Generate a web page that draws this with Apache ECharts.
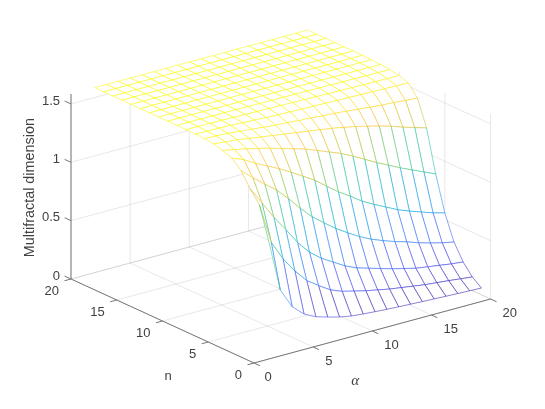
<!DOCTYPE html>
<html><head><meta charset="utf-8">
<style>html,body{margin:0;padding:0;background:#fff}#c{width:545px;height:409px}</style>
<script src="https://cdn.jsdelivr.net/npm/echarts@6/dist/echarts.min.js"></script>
</head><body><div id="c"></div>
<script>
const alphaValues=[2,3,4,5,6,7,8,9,10,11,12,13,14,15,16,17,18,19,20];
const nValues=[1,2,3,4,5,6,7,8,9,10,11,12,13,14,15,16,17,18,19,20];
const d1=[.96,.507,.337,.247,.196,.166,.139,.12,.11,.102,.095,.089,.084,.079,.074,.07,.066,.062,.058];
const d2=[1.23,.88,.71,.58,.47,.40,.335,.295,.27,.245,.225,.205,.19,.175,.16,.15,.14,.128,.117];
const d3=[1.33,1.18,1.03,.9,.76,.65,.57,.51,.45,.405,.375,.345,.315,.29,.265,.25,.235,.22,.209];
const d4=[1.45,1.36,1.28,1.2,1.1,.99,.89,.81,.735,.67,.61,.56,.52,.485,.455,.42,.39,.365,.344];
const d5=[1.52,1.48,1.42,1.37,1.32,1.263,1.2,1.14,1.06,.985,.92,.85,.795,.745,.695,.655,.62,.585,.557];
const d6=[1.55,1.53,1.51,1.485,1.46,1.43,1.40,1.37,1.33,1.29,1.25,1.2,1.145,1.09,1.04,.99,.945,.9,.855];
const d7=[1.57,1.56,1.55,1.535,1.52,1.505,1.49,1.475,1.46,1.445,1.43,1.41,1.39,1.365,1.34,1.31,1.275,1.245,1.213];
const d8=[1.58,1.575,1.57,1.56,1.55,1.54,1.53,1.525,1.515,1.51,1.50,1.495,1.485,1.475,1.465,1.455,1.45,1.44,1.434];
const d9=[1.583,1.58,1.578,1.575,1.57,1.565,1.56,1.555,1.553,1.55,1.547,1.545,1.542,1.54,1.537,1.535,1.532,1.53,1.527];
const d10=[1.585,1.584,1.583,1.582,1.58,1.578,1.576,1.574,1.572,1.57,1.568,1.566,1.564,1.562,1.56,1.558,1.557,1.556,1.555];
const d11=[1.585,1.585,1.585,1.584,1.584,1.583,1.582,1.581,1.58,1.579,1.578,1.577,1.576,1.575,1.574,1.573,1.572,1.571,1.57];
const d12=[1.585,1.585,1.585,1.585,1.585,1.584,1.584,1.584,1.583,1.583,1.582,1.582,1.581,1.581,1.58,1.58,1.579,1.579,1.578];
const d13=[1.585,1.585,1.585,1.585,1.585,1.585,1.585,1.585,1.585,1.584,1.584,1.584,1.584,1.584,1.583,1.583,1.583,1.583,1.582];
const d14=[1.585,1.585,1.585,1.585,1.585,1.585,1.585,1.585,1.585,1.585,1.585,1.585,1.585,1.585,1.585,1.584,1.584,1.584,1.584];
const dTop=[1.585,1.585,1.585,1.585,1.585,1.585,1.585,1.585,1.585,1.585,1.585,1.585,1.585,1.585,1.585,1.585,1.585,1.585,1.585];
const zRows=[d1,d2,d3,d4,d5,d6,d7,d8,d9,d10,d11,d12,d13,d14,dTop,dTop,dTop,dTop,dTop,dTop];
const alphaTicks=[0,5,10,15,20];
const nTicks=[0,5,10,15,20];
const zTicks=[0,0.5,1,1.5];
const zTickLabels=['0','0.5','1','1.5'];
const zTop=1.585;

// fixed orthographic view of the 3-D box, mapped onto a hidden 2-D value axis pair
function project(a,n,z){return [254+11.83*a-9.15*n, 363-3.2*a-4.2*n-116.7*z];}
const parula=[[62,38,168],[72,82,244],[46,135,247],[18,177,214],[55,200,151],[171,199,57],[254,195,56],[249,251,21]];
function col(z){
  let t=Math.max(0,Math.min(1,(z-0.058)/(zTop-0.058)))*(parula.length-1);
  let i=Math.min(parula.length-2,Math.floor(t)),f=t-i;
  let c=parula[i].map((v,k)=>Math.round(v+(parula[i+1][k]-v)*f));
  return 'rgb('+c.join(',')+')';
}
// each mesh edge takes the flat colour of its first vertex
function edge(api,p,q,zp){
  const A=api.coord(p),B=api.coord(q);
  return {type:'line',shape:{x1:A[0],y1:A[1],x2:B[0],y2:B[1]},
    style:{stroke:col(zp),lineWidth:.9,opacity:.66},silent:true};
}
// cells, far to near so white faces hide what lies behind them
const cells=[];
for(let j=nValues.length-2;j>=0;j--)for(let i=alphaValues.length-2;i>=0;i--){
  cells.push([alphaValues[i],alphaValues[i+1],nValues[j],nValues[j+1],zRows[j][i],zRows[j][i+1],zRows[j+1][i],zRows[j+1][i+1]]);
}
function renderCell(params,api){
  const a0=api.value(0),a1=api.value(1),n0=api.value(2),n1=api.value(3);
  const z00=api.value(4),z10=api.value(5),z01=api.value(6),z11=api.value(7);
  const P00=project(a0,n0,z00),P10=project(a1,n0,z10),P01=project(a0,n1,z01),P11=project(a1,n1,z11);
  const poly=[P00,P10,P11,P01].map(p=>api.coord(p));
  return {type:'group',children:[
    {type:'polygon',shape:{points:poly},style:{fill:'#fff',stroke:null},silent:true},
    edge(api,P01,P11,z01),edge(api,P10,P11,z10),
    edge(api,P00,P01,z00),edge(api,P00,P10,z00)
  ]};
}
// box: [from point, to point, kind]
const GRID='rgba(38,38,38,.12)',AX='#777777';
const boxLines=[];
for(const a of alphaTicks){
  boxLines.push([a,0,0,a,20,0,GRID]);
  boxLines.push([a,20,0,a,20,zTop,GRID]);
}
for(const n of nTicks){
  boxLines.push([0,n,0,20,n,0,GRID]);
  boxLines.push([20,n,0,20,n,zTop,GRID]);
}
for(const z of zTicks){
  boxLines.push([0,20,z,20,20,z,GRID]);
  boxLines.push([20,20,z,20,0,z,GRID]);
}
boxLines.push([0,20,0,0,20,zTop,AX]);
boxLines.push([0,20,0,0,0,0,AX]);
boxLines.push([0,0,0,20,0,0,AX]);
for(const z of zTicks)boxLines.push([0,20,z,0,20.7,z,AX]);
for(const n of nTicks)boxLines.push([0,n,0,-.55,n,0,AX]);
for(const a of alphaTicks)boxLines.push([a,0,0,a,-.65,0,AX]);
function renderBox(params,api){
  const L=boxLines[params.dataIndex];
  const A=api.coord(project(L[0],L[1],L[2])),B=api.coord(project(L[3],L[4],L[5]));
  return {type:'line',shape:{x1:A[0],y1:A[1],x2:B[0],y2:B[1]},style:{stroke:L[6],lineWidth:L[6]===AX?1:.9},silent:true};
}
const FONT='"Liberation Sans",Arial,sans-serif',TXT='#404040';
const labels=[];
zTicks.forEach((z,i)=>labels.push({p:project(0,20,z),t:zTickLabels[i],dx:-11,dy:-3,align:'right'}));
nTicks.forEach(n=>labels.push({p:project(0,n,0),t:String(n),dx:-12,dy:12.5,align:'right'}));
alphaTicks.forEach(a=>labels.push({p:project(a,0,0),t:String(a),dx:a===0?10.5:12,dy:14,align:'left'}));
labels.push({p:project(0,0,0),t:'n',dx:-86,dy:13.5,align:'center'});
labels.push({p:project(10,0,0),t:'α',dx:-17,dy:50,align:'center',font:'italic 15px "Liberation Serif",serif'});
labels.push({p:project(0,20,0.8),t:'Multifractal dimension',dx:-41,dy:2,align:'center',rot:Math.PI/2,font:'14.4px '+FONT});
function renderLabel(params,api){
  const L=labels[params.dataIndex],c=api.coord(L.p);
  return {type:'text',x:c[0]+L.dx,y:c[1]+L.dy,rotation:L.rot||0,silent:true,
    style:{text:L.t,fill:TXT,align:L.align,verticalAlign:'middle',font:L.font||('13px '+FONT)}};
}
const chart=echarts.init(document.getElementById('c'),null,{renderer:'canvas'});
chart.setOption({
  animation:false,backgroundColor:'#fff',
  grid:{left:0,right:0,top:0,bottom:0},
  xAxis:{type:'value',min:0,max:545,show:false},
  yAxis:{type:'value',min:0,max:409,inverse:true,show:false},
  series:[
    {type:'custom',coordinateSystem:'cartesian2d',clip:false,data:boxLines.map((_,i)=>[i]),renderItem:renderBox,silent:true,z:1},
    {type:'custom',coordinateSystem:'cartesian2d',clip:false,data:cells,renderItem:renderCell,silent:true,z:2,encode:{x:0,y:2}},
    {type:'custom',coordinateSystem:'cartesian2d',clip:false,data:labels.map((_,i)=>[i]),renderItem:renderLabel,silent:true,z:3}
  ]
});
</script></body></html>
